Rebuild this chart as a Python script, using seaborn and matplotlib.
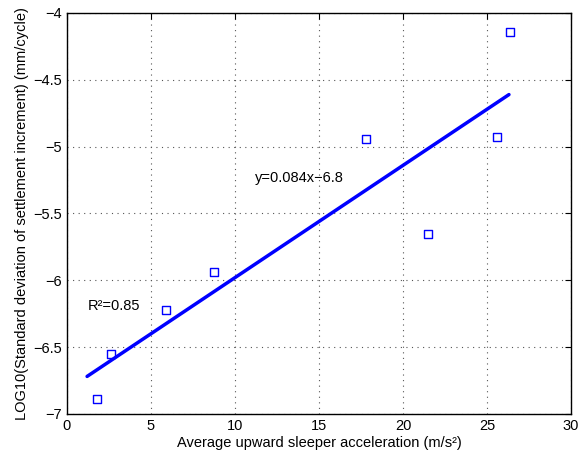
import numpy as np
import pandas as pd
import matplotlib
matplotlib.use("Agg")
import matplotlib.pyplot as plt
import seaborn as sns

accel = [1.79, 2.62, 5.9, 8.75, 17.8, 21.5, 25.6, 26.37]
log_sd = [-6.89, -6.553, -6.22, -5.94, -4.945, -5.655, -4.93, -4.145]

# linear fit shown in the chart
fit_slope = 0.084
fit_intercept = -6.82
fit_x_range = [1.2, 26.3]

fit_label = "y=0.084x\u22126.8"
r2_label = "R\u00b2=0.85"

sns.set_style("white")
plt.rcParams["font.family"] = ["Liberation Sans", "DejaVu Sans"]
plt.rcParams["axes.unicode_minus"] = True
plt.rcParams["text.color"] = "black"
plt.rcParams["axes.labelcolor"] = "black"
plt.rcParams["xtick.color"] = "black"
plt.rcParams["ytick.color"] = "black"

df = pd.DataFrame({"accel": accel, "log_sd": log_sd})
fit_x = np.array(fit_x_range)
fit_df = pd.DataFrame({"x": fit_x, "y": fit_slope * fit_x + fit_intercept})

fig = plt.figure(figsize=(5.87, 4.62), dpi=100)
ax = fig.add_axes([0.114, 0.104, 0.859, 0.868])

sns.lineplot(data=fit_df, x="x", y="y", color="#0000ff", linewidth=2.5, ax=ax, zorder=2)
sns.scatterplot(data=df, x="accel", y="log_sd", marker="s", s=32,
                facecolor="none", edgecolor="#0000ff", linewidth=1.0, ax=ax, zorder=3)

ax.text(11.2, -5.234, fit_label, fontsize=10.5, va="center", ha="left")
ax.text(1.23, -6.19, r2_label, fontsize=10.5, va="center", ha="left")

ax.set_xlim(0, 30)
ax.set_ylim(-7, -4)
ax.set_xticks(np.arange(0, 31, 5))
ax.set_yticks(np.arange(-7, -3.9, 0.5))
ax.set_yticklabels(["\u22127", "\u22126.5", "\u22126", "\u22125.5", "\u22125", "\u22124.5", "\u22124"])
ax.grid(True, linestyle=(0, (1, 4)), color="#555555", linewidth=0.8)
ax.tick_params(direction="in", length=4, labelsize=10.5, top=True, right=True)
for s in ax.spines.values():
    s.set_color("black")
    s.set_linewidth(1.0)

ax.set_xlabel("Average upward sleeper acceleration (m/s\u00b2)", fontsize=10.5, labelpad=2)
ax.set_ylabel("LOG10(Standard deviation of settlement increment) (mm/cycle)", fontsize=10.5, labelpad=3)

fig.savefig("out.png", dpi=100)
